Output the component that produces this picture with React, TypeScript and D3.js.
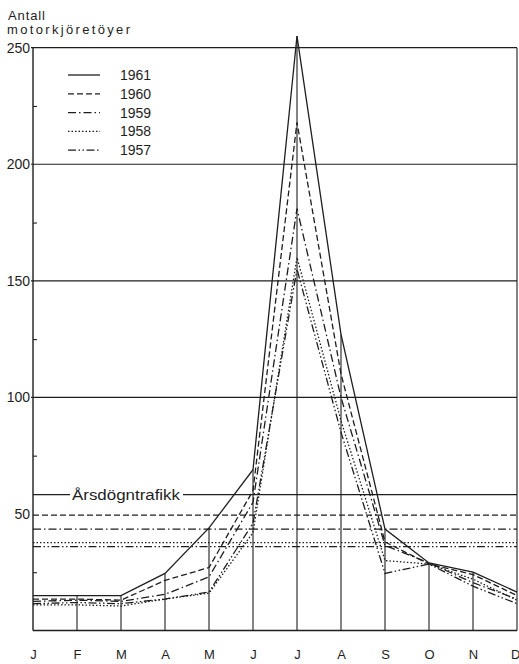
import React, { useEffect, useRef } from "react";
import * as d3 from "d3";

const months = ["J", "F", "M", "A", "M", "J", "J", "A", "S", "O", "N", "D"];
const years = ["1961", "1960", "1959", "1958", "1957"];
const v1961 = [15, 15, 15, 24.5, 44, 69, 255, 127, 43.5, 29, 25, 16.5];
const v1960 = [13.5, 13.5, 13, 21.5, 27, 60, 218, 110, 38, 28.5, 24, 15];
const v1959 = [12.5, 13, 12.5, 15.5, 23, 55, 181, 100, 36.5, 29, 20.5, 13.5];
const v1958 = [11, 11, 10.5, 13.5, 16, 42, 160, 90, 30, 28.5, 22, 13];
const v1957 = [11.5, 12, 11.5, 13.5, 16.5, 46, 155, 85, 24.5, 28.5, 19, 11.5];
const averages = [58.3, 49.5, 43.5, 37.7, 36];
const majorTicks = [50, 100, 150, 200, 250];
const minorTicks = [25, 75, 125, 175, 225];
const gridValues = [100, 150, 200, 250];

const series = [v1961, v1960, v1959, v1958, v1957];
const dashes = ["", "6,3", "8,3,1.5,3", "1.5,2", "8,2.5,1.5,2.5,1.5,2.5"];

const W = 519;
const H = 664;
const ink = "#1e1e1e";
const font = "'Liberation Sans', Arial, sans-serif";

const App = () => {
  const svgRef = useRef<SVGSVGElement>(null);

  useEffect(() => {
    const svg = d3.select(svgRef.current);
    svg.selectAll("*").remove();

    const x = d3.scaleLinear().domain([0, 11]).range([33, 517]);
    const y = d3.scaleLinear().domain([0, 250]).range([630.5, 47.7]);

    // grid lines
    svg.append("g")
      .selectAll("line")
      .data(gridValues)
      .join("line")
      .attr("x1", 31).attr("x2", x(11))
      .attr("y1", (d) => y(d)).attr("y2", (d) => y(d))
      .attr("stroke", ink).attr("stroke-width", 1.2);

    // frame: left axis, bottom, right edge
    svg.append("line").attr("x1", x(0)).attr("x2", x(0)).attr("y1", y(250)).attr("y2", y(0))
      .attr("stroke", ink).attr("stroke-width", 1.4);
    svg.append("line").attr("x1", x(0)).attr("x2", x(11)).attr("y1", y(0)).attr("y2", y(0))
      .attr("stroke", ink).attr("stroke-width", 1.4);
    svg.append("line").attr("x1", x(11)).attr("x2", x(11)).attr("y1", y(250)).attr("y2", y(0))
      .attr("stroke", ink).attr("stroke-width", 1.1);

    // drop lines from each month up to its highest value
    const maxes = months.map((_, i) => d3.max(series, (s) => s[i]) as number);
    svg.append("g")
      .selectAll("line")
      .data(maxes.slice(1, 11))
      .join("line")
      .attr("x1", (_, i) => x(i + 1)).attr("x2", (_, i) => x(i + 1))
      .attr("y1", y(0)).attr("y2", (d) => y(d))
      .attr("stroke", ink).attr("stroke-width", 1.1);

    // y axis labels
    const yAxis = svg.append("g")
      .attr("transform", `translate(${x(0)},0)`)
      .call(d3.axisLeft(y).tickValues(majorTicks).tickSize(0).tickPadding(3));
    yAxis.select(".domain").remove();
    yAxis.selectAll("text").attr("font-family", font).attr("font-size", 14).attr("fill", ink);

    // minor inward ticks
    const minor = svg.append("g")
      .attr("transform", `translate(${x(0)},0)`)
      .call(d3.axisRight(y).tickValues(minorTicks).tickSize(4).tickFormat(() => ""));
    minor.select(".domain").remove();
    minor.selectAll("line").attr("stroke", ink).attr("stroke-width", 1.1);

    // month labels
    const xAxis = svg.append("g")
      .attr("transform", `translate(0,${y(0)})`)
      .call(d3.axisBottom(x).tickValues(d3.range(12)).tickSize(0).tickPadding(19)
        .tickFormat((d) => months[d as number]));
    xAxis.select(".domain").remove();
    xAxis.selectAll("text").attr("font-family", font).attr("font-size", 13).attr("fill", ink);
    xAxis.selectAll<SVGTextElement, number>("text")
      .filter((d) => d === 11)
      .attr("text-anchor", "end")
      .attr("dx", 3);

    // annual average lines
    averages.forEach((a, i) => {
      if (i === 0) {
        svg.append("line").attr("x1", x(0)).attr("x2", 70).attr("y1", y(a)).attr("y2", y(a))
          .attr("stroke", ink).attr("stroke-width", 1.2);
        svg.append("line").attr("x1", 183).attr("x2", x(11)).attr("y1", y(a)).attr("y2", y(a))
          .attr("stroke", ink).attr("stroke-width", 1.2);
        svg.append("text").attr("x", 72).attr("y", y(a) + 5)
          .attr("textLength", 108).attr("lengthAdjust", "spacingAndGlyphs")
          .attr("font-family", font).attr("font-size", 14).attr("fill", ink)
          .text("Årsdögntrafikk");
      } else {
        svg.append("line").attr("x1", x(0)).attr("x2", x(11)).attr("y1", y(a)).attr("y2", y(a))
          .attr("stroke", ink).attr("stroke-width", 1.4)
          .attr("stroke-dasharray", dashes[i]);
      }
    });

    // year lines
    const line = d3.line<number>().x((_, i) => x(i)).y((d) => y(d));
    svg.append("g")
      .selectAll("path")
      .data(series)
      .join("path")
      .attr("d", (d) => line(d))
      .attr("fill", "none")
      .attr("stroke", ink)
      .attr("stroke-width", 1.3)
      .attr("stroke-dasharray", (_, i) => dashes[i]);

    // legend
    const legend = svg.append("g");
    years.forEach((yr, i) => {
      const ly = 75 + i * 18.8;
      legend.append("line").attr("x1", 68).attr("x2", 100).attr("y1", ly).attr("y2", ly)
        .attr("stroke", ink).attr("stroke-width", 1.3).attr("stroke-dasharray", dashes[i]);
      legend.append("text").attr("x", 120).attr("y", ly + 5)
        .attr("font-family", font).attr("font-size", 14).attr("fill", ink).text(yr);
    });

    // title
    svg.append("text").attr("x", 8).attr("y", 20).attr("textLength", 37)
      .attr("font-family", font).attr("font-size", 13).attr("fill", ink).text("Antall");
    svg.append("text").attr("x", 7).attr("y", 34).attr("textLength", 123)
      .attr("font-family", font).attr("font-size", 13).attr("fill", ink).text("motorkjöretöyer");
  }, []);

  return (
    <svg
      ref={svgRef}
      width={W}
      height={H}
      style={{ position: "absolute", left: 0, top: 0, background: "#fff" }}
    />
  );
};

export default App;
